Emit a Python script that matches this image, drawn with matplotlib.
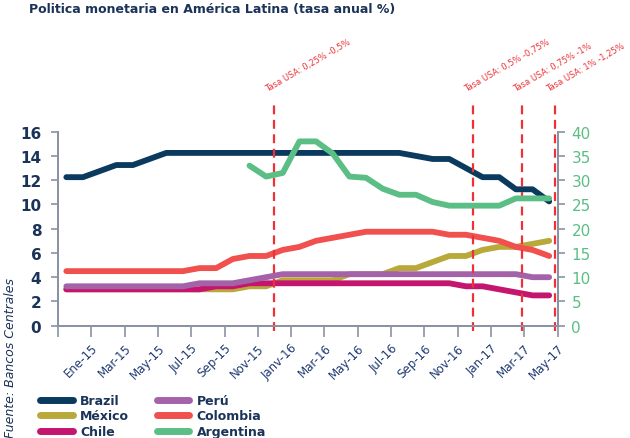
import matplotlib
matplotlib.use("Agg")
import matplotlib.pyplot as plt
from matplotlib.lines import Line2D

# ---------------- data ----------------
months = ["Ene-15", "Feb-15", "Mar-15", "Abr-15", "May-15", "Jun-15", "Jul-15", "Ago-15",
          "Sep-15", "Oct-15", "Nov-15", "Dic-15", "Ene-16", "Feb-16", "Mar-16", "Abr-16",
          "May-16", "Jun-16", "Jul-16", "Ago-16", "Sep-16", "Oct-16", "Nov-16", "Dic-16",
          "Ene-17", "Feb-17", "Mar-17", "Abr-17", "May-17", "Jun-17"]

brazil = [12.25, 12.25, 12.75, 13.25, 13.25, 13.75, 14.25, 14.25, 14.25, 14.25,
          14.25, 14.25, 14.25, 14.25, 14.25, 14.25, 14.25, 14.25, 14.25, 14.25,
          14.25, 14.0, 13.75, 13.75, 13.0, 12.25, 12.25, 11.25, 11.25, 10.25]
mexico = [3.0, 3.0, 3.0, 3.0, 3.0, 3.0, 3.0, 3.0, 3.0, 3.0,
          3.0, 3.25, 3.25, 3.75, 3.75, 3.75, 3.75, 4.25, 4.25, 4.25,
          4.75, 4.75, 5.25, 5.75, 5.75, 6.25, 6.5, 6.5, 6.75, 7.0]
chile = [3.0, 3.0, 3.0, 3.0, 3.0, 3.0, 3.0, 3.0, 3.0, 3.25,
         3.25, 3.5, 3.5, 3.5, 3.5, 3.5, 3.5, 3.5, 3.5, 3.5,
         3.5, 3.5, 3.5, 3.5, 3.25, 3.25, 3.0, 2.75, 2.5, 2.5]
peru = [3.25, 3.25, 3.25, 3.25, 3.25, 3.25, 3.25, 3.25, 3.5, 3.5,
        3.5, 3.75, 4.0, 4.25, 4.25, 4.25, 4.25, 4.25, 4.25, 4.25,
        4.25, 4.25, 4.25, 4.25, 4.25, 4.25, 4.25, 4.25, 4.0, 4.0]
colombia = [4.5, 4.5, 4.5, 4.5, 4.5, 4.5, 4.5, 4.5, 4.75, 4.75,
            5.5, 5.75, 5.75, 6.25, 6.5, 7.0, 7.25, 7.5, 7.75, 7.75,
            7.75, 7.75, 7.75, 7.5, 7.5, 7.25, 7.0, 6.5, 6.25, 5.75]
# Argentina starts in Dic-15 (index 11), right axis
argentina_start = 11
argentina = [33.0, 30.75, 31.5, 38.0, 38.0, 35.5, 30.75, 30.5, 28.25, 27.0,
             27.0, 25.5, 24.75, 24.75, 24.75, 24.75, 26.25, 26.25, 26.25]

tick_labels = ["", "Ene-15", "Mar-15", "May-15", "Jul-15", "Sep-15", "Nov-15", "Janv-16",
               "Mar-16", "May-16", "Jul-16", "Sep-16", "Nov-16", "Jan-17", "Mar-17", "May-17"]

fed_pos = [12.95, 24.9, 27.85, 29.85]
fed_labels = ["Tasa USA: 0,25% -0,5%", "Tasa USA: 0,5% -0,75%",
              "Tasa USA: 0,75% -1%", "Tasa USA: 1% -1,25%"]

# ---------------- style ----------------
TXT = "#1B3358"
GREY = "#8A93A3"
RED = "#EE3137"
colors = {"Brazil": "#0B3A5F", "México": "#B9A83A", "Chile": "#C4166F",
          "Perú": "#A463A9", "Colombia": "#F0504E", "Argentina": "#5BBE85"}

plt.rcParams['font.family'] = ['DejaVu Sans']

fig = plt.figure(figsize=(6.30, 4.39), dpi=100)
ax = fig.add_axes([58/630, 1-326.7/439, (557.5-58)/630, (326.7-132.7)/439])
ax2 = ax.twinx()

x = [i + 0.5 for i in range(len(months))]
lw = 4.2
ax.plot(x, mexico, color=colors["México"], lw=lw, solid_capstyle='round', zorder=2)
ax.plot(x, chile, color=colors["Chile"], lw=lw, solid_capstyle='round', zorder=3)
ax.plot(x, peru, color=colors["Perú"], lw=lw, solid_capstyle='round', zorder=4)
ax.plot(x, colombia, color=colors["Colombia"], lw=lw, solid_capstyle='round', zorder=5)
ax.plot(x, brazil, color=colors["Brazil"], lw=lw, solid_capstyle='round', zorder=6)
xa = x[argentina_start:argentina_start + len(argentina)]
ax2.plot(xa, argentina, color=colors["Argentina"], lw=lw, solid_capstyle='round', zorder=3)

ax.set_xlim(0, 30)
ax.set_ylim(0, 16)
ax2.set_ylim(0, 40)

ax.set_xticks(range(0, 31, 2))
ax.set_xticklabels(tick_labels, rotation=45, ha='right', rotation_mode='anchor',
                   fontsize=8.5, color="#1F3A73")
ax.set_yticks(range(0, 17, 2))
ax2.set_yticks(range(0, 41, 5))
for lab in ax.get_yticklabels():
    lab.set_fontsize(11); lab.set_color(TXT); lab.set_fontweight('bold')
for lab in ax2.get_yticklabels():
    lab.set_fontsize(11); lab.set_color(colors["Argentina"])

for a in (ax, ax2):
    a.spines['top'].set_visible(False)
    for s in ('left', 'right', 'bottom'):
        a.spines[s].set_color(GREY)
        a.spines[s].set_linewidth(1.4)
    a.tick_params(axis='both', colors=GREY, width=1.2, length=5)
ax.tick_params(axis='x', length=8, pad=3, labelcolor="#1F3A73")
ax.tick_params(axis='y', labelcolor=TXT, pad=7)
ax2.tick_params(axis='y', labelcolor=colors["Argentina"], pad=5)
ax.set_facecolor('none')

for xp, lab in zip(fed_pos, fed_labels):
    ax.plot([xp, xp], [-0.4, 18.55], color=RED, lw=1.6, ls=(0, (4, 2.5)),
            clip_on=False, zorder=10)
    ax.text(xp - 0.3, 19.2, lab, color=RED, fontsize=6, rotation=30,
            rotation_mode='anchor', ha='left', va='bottom')

fig.text(29/630, 1-9/439, "Politica monetaria en América Latina (tasa anual %)",
         fontsize=9, fontweight='bold', color=TXT, ha='left', va='center')
fig.text(11/630, 1-358/439, "Fuente: Bancos Centrales", fontsize=9, style='italic',
         color=TXT, rotation=90, ha='center', va='center')

order = ["Brazil", "México", "Chile", "Perú", "Colombia", "Argentina"]
handles = [Line2D([0], [0], color=colors[n], lw=5, solid_capstyle='round') for n in order]
leg = fig.legend(handles, order, loc='upper left', bbox_to_anchor=(40/630, 1-395/439),
                 ncol=2, frameon=False, fontsize=9, handlelength=2.6, handletextpad=0.6,
                 columnspacing=2.2, labelspacing=0.2, borderaxespad=0, borderpad=0)
for t in leg.get_texts():
    t.set_color(TXT); t.set_fontweight('bold')

fig.savefig("out.png", dpi=100)
